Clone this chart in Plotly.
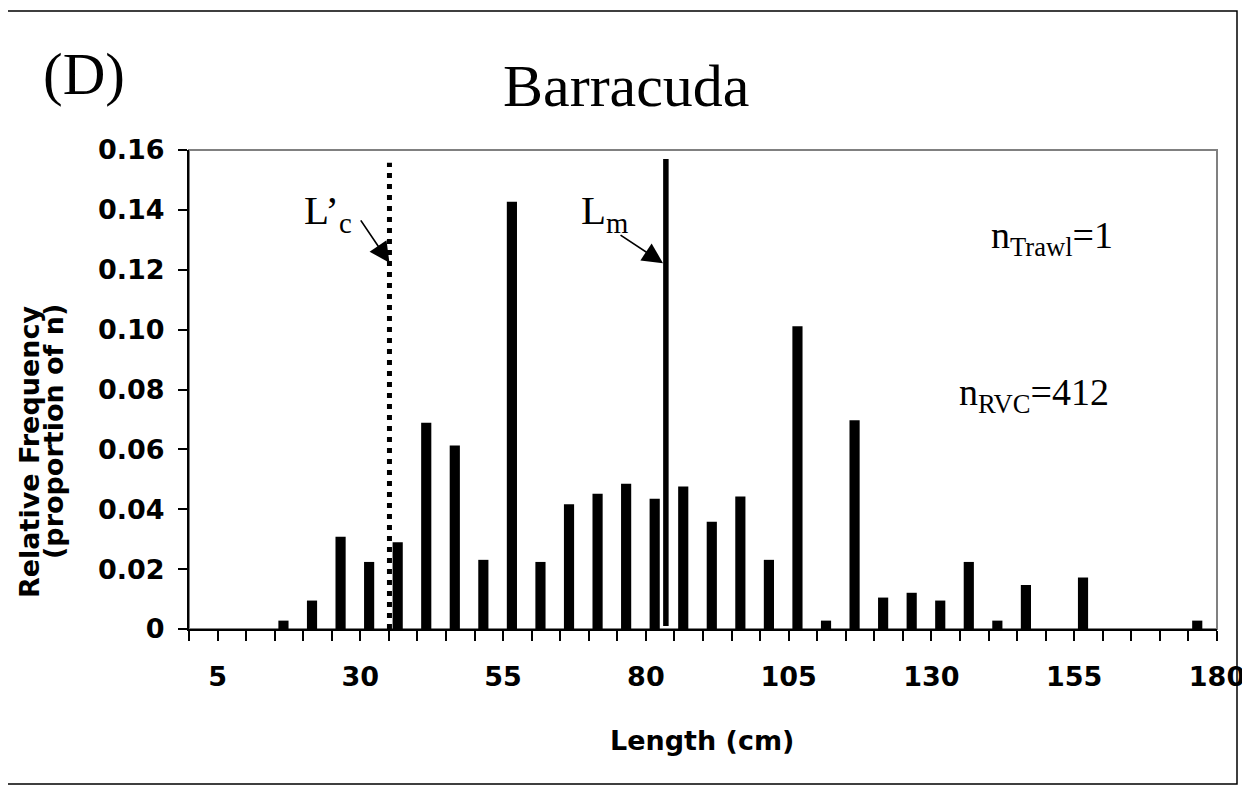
import plotly.graph_objects as go

# length bins (cm, lower bound) and relative frequency of each bin
length_bins = [15, 20, 25, 30, 35, 40, 45, 50, 55, 60, 65, 70, 75, 80, 85,
               90, 95, 100, 105, 110, 115, 120, 125, 130, 135, 140, 145, 155, 175]
rel_freq = [0.0028, 0.0095, 0.0308, 0.0224, 0.0290, 0.0689, 0.0613, 0.0231,
            0.1427, 0.0224, 0.0417, 0.0452, 0.0485, 0.0435, 0.0476, 0.0358,
            0.0443, 0.0231, 0.1011, 0.0028, 0.0697, 0.0105, 0.0121, 0.0095,
            0.0224, 0.0028, 0.0147, 0.0172, 0.0028]

x_tick_labels = [5, 30, 55, 80, 105, 130, 155, 180]
y_tick_labels = ["0", "0.02", "0.04", "0.06", "0.08", "0.10", "0.12", "0.14", "0.16"]

# reference lengths
lc_prime = 35.1        # L'c (dotted line)
lc_prime_top = 0.1557
lm = 83.5              # Lm (solid line)
lm_bottom, lm_top = 0.001, 0.157

n_trawl = 1
n_rvc = 412

# page geometry: the page body has an 8px margin, so the figure is shifted by it
OFF = 8
W_PX, H_PX = 1250 - OFF, 791 - OFF
ML, MR, MT, MB = 189 - OFF, 33, 150 - OFF, 162
PW, PH = W_PX - ML - MR, H_PX - MT - MB


def px(x):
    # window pixel -> paper x
    return (x - OFF - ML) / PW


def py(y):
    # window pixel -> paper y
    return (H_PX - MB - (y - OFF)) / PH


SERIF = "Liberation Serif"
SANS = "DejaVu Sans"

fig = go.Figure()

fig.add_trace(go.Bar(
    x=length_bins, y=rel_freq, width=1.78, offset=0.65,
    marker=dict(color="black", line=dict(width=0)),
))

fig.add_trace(go.Scatter(
    x=[lc_prime, lc_prime], y=[0, lc_prime_top], mode="lines",
    line=dict(color="black", width=5, dash="5px,6px"),
))
fig.add_trace(go.Scatter(
    x=[lm, lm], y=[lm_bottom, lm_top], mode="lines",
    line=dict(color="black", width=5.5),
))

annotations = [
    dict(text="(D)", x=px(41), y=py(39), xanchor="left", yanchor="top",
         font=dict(family=SERIF, size=59)),
    dict(text="Barracuda", x=px(626), y=py(50.5), xanchor="center", yanchor="top",
         font=dict(family=SERIF, size=60)),
    dict(text="L’<sub>c</sub>", x=px(302), y=py(185.5), xanchor="left", yanchor="top",
         font=dict(family=SERIF, size=41)),
    dict(text="L<sub>m</sub>", x=px(579), y=py(184.5), xanchor="left", yanchor="top",
         font=dict(family=SERIF, size=41)),
    dict(text=f"n<sub>Trawl</sub>={n_trawl}", x=px(989), y=py(212), xanchor="left",
         yanchor="top", font=dict(family=SERIF, size=38)),
    dict(text=f"n<sub>RVC</sub>={n_rvc}", x=px(957), y=py(368.5), xanchor="left",
         yanchor="top", font=dict(family=SERIF, size=38)),
    dict(text="Length (cm)", x=px(702), y=py(723), xanchor="center", yanchor="top",
         font=dict(family=SANS, size=27, weight="bold")),
    dict(text="Relative Frequency", x=px(29), y=py(452), textangle=-90,
         xanchor="center", yanchor="middle", font=dict(family=SANS, size=27, weight="bold")),
    dict(text="(proportion of n)", x=px(53), y=py(432), textangle=-90,
         xanchor="center", yanchor="middle", font=dict(family=SANS, size=27, weight="bold")),
]
for a in annotations:
    a.update(xref="paper", yref="paper", showarrow=False, font_color="black")

# arrows pointing at the two reference lines
arrows = [
    dict(x=35.1, y=0.1223, ax=29.9, ay=0.137),
    dict(x=83.0, y=0.1222, ax=75.3, ay=0.1319),
]
for a in arrows:
    a.update(xref="x", yref="y", axref="x", ayref="y", text="", showarrow=True,
             arrowhead=2, arrowsize=2.4, arrowwidth=1.7, arrowcolor="black")
    annotations.append(a)

fig.update_layout(
    width=W_PX, height=H_PX,
    margin=dict(l=ML, r=MR, t=MT, b=MB, autoexpand=False),
    paper_bgcolor="white", plot_bgcolor="white",
    showlegend=False,
    annotations=annotations,
    shapes=[
        dict(type="rect", xref="paper", yref="paper", x0=0, x1=1, y0=0, y1=1,
             line=dict(color="#808080", width=2), layer="below"),
        dict(type="rect", xref="paper", yref="paper", x0=px(7), x1=px(1237),
             y0=py(784), y1=py(11), line=dict(color="black", width=1.5)),
    ],
)

fig.update_xaxes(
    range=[0, 180], showgrid=False, zeroline=False,
    showline=True, linecolor="black", linewidth=2,
    tickvals=x_tick_labels, ticktext=[str(v) for v in x_tick_labels],
    ticks="outside", ticklen=10, tickwidth=1.5, tickcolor="black",
    minor=dict(ticks="outside", ticklen=10, tickwidth=1.5, tickcolor="black",
               tick0=0, dtick=5),
    ticklabelstandoff=13,
    tickfont=dict(family=SANS, size=27, color="black", weight="bold"),
)
fig.update_yaxes(
    range=[0, 0.16], showgrid=False, zeroline=False,
    showline=True, linecolor="black", linewidth=2,
    tickvals=[float(t) for t in y_tick_labels], ticktext=y_tick_labels,
    ticks="outside", ticklen=9, tickwidth=1.5, tickcolor="black",
    ticklabelstandoff=8,
    tickfont=dict(family=SANS, size=27, color="black", weight="bold"),
)

fig.write_html("out.html")
